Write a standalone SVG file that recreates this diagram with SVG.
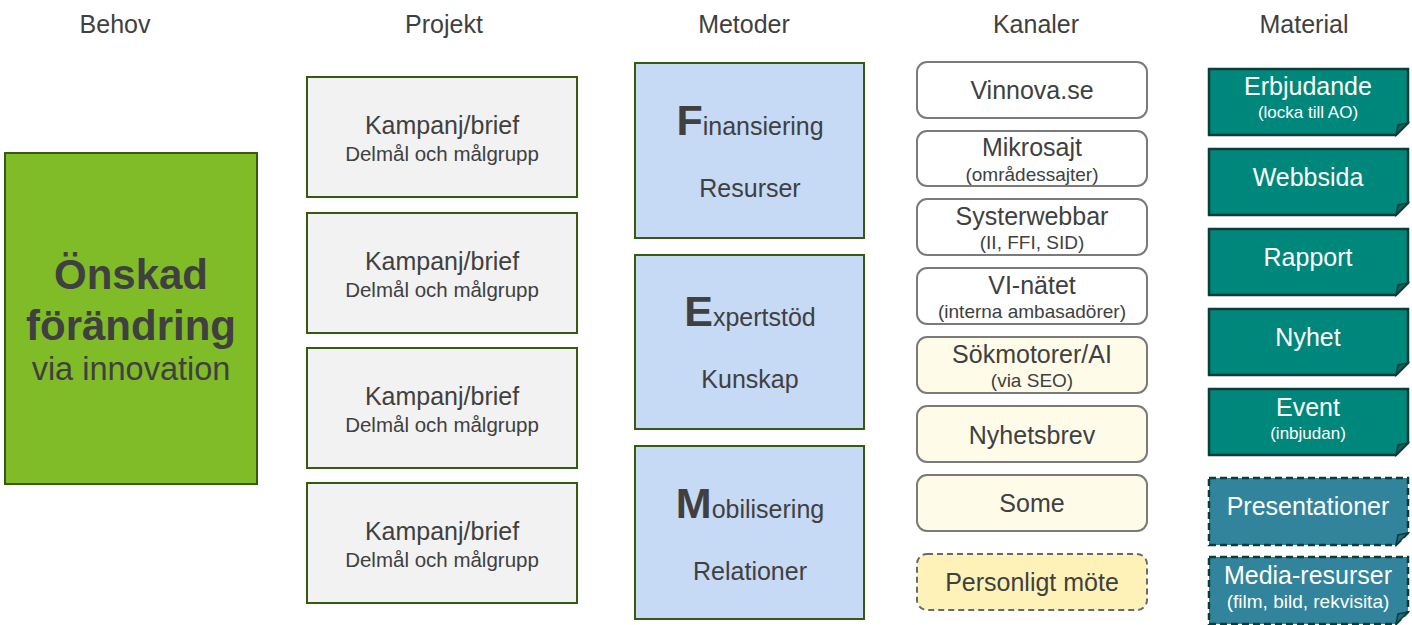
<svg xmlns="http://www.w3.org/2000/svg" width="1412" height="625" viewBox="0 0 1412 625">
<defs>
<style>
text{font-family:"Liberation Sans",Arial,sans-serif;text-anchor:middle;fill:#404040}
.hdr{font-size:25px}
.proj{fill:#f2f2f2;stroke:#375a10;stroke-width:2}
.met{fill:#c6d9f5;stroke:#375a10;stroke-width:2}
.kan{fill:#ffffff;stroke:#7a7a7a;stroke-width:2}
.kany{fill:#fffbe9;stroke:#7a7a7a;stroke-width:2}
.kand{fill:#fff2b8;stroke:#6a6a6a;stroke-width:2;stroke-dasharray:6 4}
.mat{fill:#00877b;stroke:#0c3d38;stroke-width:2.5}
.matd{fill:#31849b;stroke:#0c3d38;stroke-width:2.5;stroke-dasharray:7 4}
.fold{fill:#0b6157;stroke:#0c3d38;stroke-width:1.5}
.foldd{fill:#1f6a80;stroke:#0c3d38;stroke-width:1.5}
.wt{fill:#ffffff}
.t22{font-size:25px}
.t18{font-size:20.5px}
.t16{font-size:19px}
.t14{font-size:17px}
.big{font-size:43px;font-weight:bold}
</style>
</defs>
<g id="headers">
<text class="hdr" x="115" y="33">Behov</text>
<text class="hdr" x="444" y="33">Projekt</text>
<text class="hdr" x="744" y="33">Metoder</text>
<text class="hdr" x="1036" y="33">Kanaler</text>
<text class="hdr" x="1304" y="33">Material</text>
</g>
<g id="behov">
<rect x="5" y="153" width="252" height="331" fill="#80bb28" stroke="#375a10" stroke-width="2"/>
<text x="131" y="289" font-size="42" font-weight="bold">Önskad</text>
<text x="131" y="340" font-size="42" font-weight="bold">förändring</text>
<text x="131" y="380" font-size="32.5">via innovation</text>
</g>
<g id="projekt1"><rect class="proj" x="307" y="77" width="270" height="120"/><text class="t22" x="442" y="134">Kampanj/brief</text><text class="t18" x="442" y="161">Delmål och målgrupp</text></g>
<g id="projekt2"><rect class="proj" x="307" y="213" width="270" height="120"/><text class="t22" x="442" y="270">Kampanj/brief</text><text class="t18" x="442" y="297">Delmål och målgrupp</text></g>
<g id="projekt3"><rect class="proj" x="307" y="348" width="270" height="120"/><text class="t22" x="442" y="405">Kampanj/brief</text><text class="t18" x="442" y="432">Delmål och målgrupp</text></g>
<g id="projekt4"><rect class="proj" x="307" y="483" width="270" height="120"/><text class="t22" x="442" y="540">Kampanj/brief</text><text class="t18" x="442" y="567">Delmål och målgrupp</text></g>
<g id="metod1"><rect class="met" x="635" y="63" width="229" height="175"/><text class="t22" x="750" y="135"><tspan class="big">F</tspan>inansiering</text><text class="t22" x="750" y="197">Resurser</text></g>
<g id="metod2"><rect class="met" x="635" y="255" width="229" height="174"/><text class="t22" x="750" y="326"><tspan class="big">E</tspan>xpertstöd</text><text class="t22" x="750" y="388">Kunskap</text></g>
<g id="metod3"><rect class="met" x="635" y="446" width="229" height="173"/><text class="t22" x="750" y="518"><tspan class="big">M</tspan>obilisering</text><text class="t22" x="750" y="580">Relationer</text></g>
<g id="kanal1"><rect class="kan" x="917" y="62" width="230" height="56" rx="10"/><text class="t22" x="1032" y="99">Vinnova.se</text></g>
<g id="kanal2"><rect class="kan" x="917" y="131" width="230" height="55" rx="10"/><text class="t22" x="1032" y="156">Mikrosajt</text><text class="t16" x="1032" y="181">(områdessajter)</text></g>
<g id="kanal3"><rect class="kan" x="917" y="199" width="230" height="56" rx="10"/><text class="t22" x="1032" y="225">Systerwebbar</text><text class="t16" x="1032" y="249">(II, FFI, SID)</text></g>
<g id="kanal4"><rect class="kan" x="917" y="268" width="230" height="56" rx="10"/><text class="t22" x="1032" y="294">VI-nätet</text><text class="t16" x="1032" y="318">(interna ambasadörer)</text></g>
<g id="kanal5"><rect class="kany" x="917" y="337" width="230" height="56" rx="10"/><text class="t22" x="1032" y="363">Sökmotorer/AI</text><text class="t16" x="1032" y="387">(via SEO)</text></g>
<g id="kanal6"><rect class="kany" x="917" y="406" width="230" height="56" rx="10"/><text class="t22" x="1032" y="444">Nyhetsbrev</text></g>
<g id="kanal7"><rect class="kany" x="917" y="475" width="230" height="56" rx="10"/><text class="t22" x="1032" y="512">Some</text></g>
<g id="kanal8"><rect class="kand" x="917" y="554" width="230" height="56" rx="10"/><text class="t22" x="1032" y="591">Personligt möte</text></g>
<g id="material1"><path class="mat" d="M1209,69 H1408 V123 L1396,135 H1209 Z"/><path class="fold" d="M1396,135 L1398,125 L1408,123 Z"/><text class="t22 wt" x="1308" y="95">Erbjudande</text><text class="t14 wt" x="1308" y="118">(locka till AO)</text></g>
<g id="material2"><path class="mat" d="M1209,149 H1408 V203 L1396,215 H1209 Z"/><path class="fold" d="M1396,215 L1398,205 L1408,203 Z"/><text class="t22 wt" x="1308" y="186">Webbsida</text></g>
<g id="material3"><path class="mat" d="M1209,229 H1408 V283 L1396,295 H1209 Z"/><path class="fold" d="M1396,295 L1398,285 L1408,283 Z"/><text class="t22 wt" x="1308" y="266">Rapport</text></g>
<g id="material4"><path class="mat" d="M1209,309 H1408 V363 L1396,375 H1209 Z"/><path class="fold" d="M1396,375 L1398,365 L1408,363 Z"/><text class="t22 wt" x="1308" y="346">Nyhet</text></g>
<g id="material5"><path class="mat" d="M1209,389 H1408 V443 L1396,455 H1209 Z"/><path class="fold" d="M1396,455 L1398,445 L1408,443 Z"/><text class="t22 wt" x="1308" y="416">Event</text><text class="t14 wt" x="1308" y="439">(inbjudan)</text></g>
<g id="material6"><path class="matd" d="M1209,478 H1408 V533 L1396,545 H1209 Z"/><path class="foldd" d="M1396,545 L1398,535 L1408,533 Z"/><text class="t22 wt" x="1308" y="515">Presentationer</text></g>
<g id="material7"><path class="matd" d="M1209,557 H1408 V612 L1396,624 H1209 Z"/><path class="foldd" d="M1396,624 L1398,614 L1408,612 Z"/><text class="t22 wt" x="1308" y="584">Media-resurser</text><text class="t16 wt" x="1308" y="608">(film, bild, rekvisita)</text></g>
<g id="connectors"></g>
</svg>
